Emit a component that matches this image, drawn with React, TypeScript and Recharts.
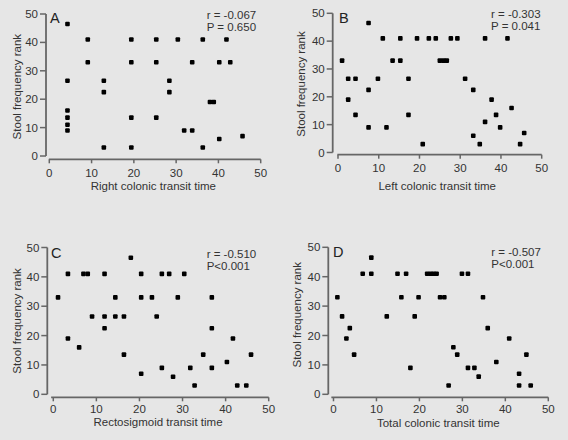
import React from 'react';
import { ScatterChart, Scatter, XAxis, YAxis, Customized } from 'recharts';

const xTicks = [0, 10, 20, 30, 40, 50];
const yTicks = [0, 10, 20, 30, 40, 50];

const panelLetters = ['A', 'B', 'C', 'D'];
const xTitles = ['Right colonic transit time', 'Left colonic transit time', 'Rectosigmoid transit time', 'Total colonic transit time'];
const yTitle = 'Stool frequency rank';
const statR = ['r = -0.067', 'r = -0.303', 'r = -0.510', 'r = -0.507'];
const statP = ['P = 0.650', 'P = 0.041', 'P<0.001', 'P<0.001'];

const rightX = [4.3, 9.1, 9.1, 4.3, 4.3, 4.3, 4.3, 4.3, 12.9, 12.9, 12.9, 19.4, 19.4, 19.4, 19.4, 25.3, 25.3, 25.3, 30.4, 28.4, 28.4, 33.8, 31.9, 33.8, 36.3, 36.3, 38.0, 38.9, 40.2, 40.2, 41.9, 42.8, 45.7];
const rightY = [46.5, 41, 33, 26.5, 16, 13.5, 11, 9, 26.5, 22.5, 3, 41, 33, 13.5, 3, 41, 33, 13.5, 41, 26.5, 22.5, 33, 9, 9, 41, 3, 19, 19, 33, 6, 41, 33, 7];

const leftX = [1.0, 2.5, 2.5, 4.3, 4.3, 7.5, 7.5, 7.5, 9.8, 11.0, 11.9, 13.4, 15.3, 15.3, 17.3, 17.3, 19.4, 20.8, 22.3, 24.0, 25.0, 25.9, 26.7, 27.7, 29.3, 31.2, 33.2, 33.2, 34.8, 36.1, 36.1, 37.7, 38.8, 39.8, 41.6, 42.6, 44.7, 45.7];
const leftY = [33, 26.5, 19, 26.5, 13.5, 46.5, 22.5, 9, 26.5, 41, 9, 33, 41, 33, 26.5, 13.5, 41, 3, 41, 41, 33, 33, 33, 41, 41, 26.5, 22.5, 6, 3, 41, 11, 19, 13.5, 9, 41, 16, 3, 7];

const rectoX = [1.1, 3.4, 3.4, 6.0, 7.0, 8.0, 9.0, 11.9, 11.9, 11.9, 14.4, 14.4, 16.4, 16.4, 18.0, 20.4, 20.4, 20.4, 22.9, 24.0, 25.2, 25.2, 26.9, 27.8, 28.9, 30.4, 31.8, 32.8, 34.8, 36.8, 36.8, 36.8, 40.3, 41.7, 42.7, 44.8, 45.9];
const rectoY = [33, 41, 19, 16, 41, 41, 26.5, 41, 26.5, 22.5, 33, 26.5, 26.5, 13.5, 46.5, 41, 33, 7, 33, 26.5, 41, 9, 41, 6, 33, 41, 9, 3, 13.5, 33, 22.5, 9, 11, 19, 3, 3, 13.5];

const totalX = [0.9, 2.0, 3.0, 3.8, 4.8, 6.8, 8.8, 8.8, 12.4, 14.9, 15.8, 16.9, 17.9, 18.9, 19.8, 21.8, 22.6, 23.3, 24.0, 24.8, 25.8, 26.8, 27.9, 28.8, 29.9, 31.3, 31.3, 32.8, 33.8, 34.8, 35.9, 37.9, 40.9, 43.2, 43.2, 44.9, 45.9];
const totalY = [33, 26.5, 19, 22.5, 13.5, 41, 46.5, 41, 26.5, 41, 33, 41, 9, 26.5, 33, 41, 41, 41, 41, 33, 33, 3, 16, 13.5, 41, 41, 9, 9, 6, 33, 22.5, 11, 19, 7, 3, 13.5, 3];

const seriesX = [rightX, leftX, rectoX, totalX];
const seriesY = [rightY, leftY, rectoY, totalY];

const FONT = '"Liberation Sans", Arial, Helvetica, sans-serif';
const AXIS = '#666666';
const TEXT = '#333';
const X_AXIS_H = 40;

type Layout = {
  left: number; top: number; w: number; h: number;
  axisW: number; mTop: number; mRight: number; mBottom: number;
  xExt: number; yExt: number; xLineStart: number; xTickMargin: number;
  xLabelOffset: number; yLabelX: number; yLabelDy: number;
  letterX: number; letterY: number; statX: number; statY: number;
};

const layouts: Layout[] = [
  { left: 0, top: 0, w: 284, h: 230, axisW: 46, mTop: 14, mRight: 23.3, mBottom: 30.7, xExt: 0.78, yExt: 1.16, xLineStart: -0.1, xTickMargin: 5.5, xLabelOffset: 9.8, yLabelX: 17, yLabelDy: 0, letterX: 50, letterY: 23.3, statX: 206.7, statY: 19.3 },
  { left: 284, top: 0, w: 284, h: 230, axisW: 48.7, mTop: 13.3, mRight: 26.3, mBottom: 35.3, xExt: 1.3, yExt: 0.8, xLineStart: -0.15, xTickMargin: 5.5, xLabelOffset: 5.2, yLabelX: 16.7, yLabelDy: 0, letterX: 55, letterY: 23, statX: 207, statY: 17.5 },
  { left: 0, top: 230, w: 284, h: 210, axisW: 47.3, mTop: 17.5, mRight: 15.3, mBottom: 2.7, xExt: 1.39, yExt: 1.02, xLineStart: -0.5, xTickMargin: 3.5, xLabelOffset: 11.3, yLabelX: 16.7, yLabelDy: -1.5, letterX: 51, letterY: 28, statX: 206.7, statY: 27.5 },
  { left: 284, top: 230, w: 284, h: 210, axisW: 44.3, mTop: 17.3, mRight: 19.7, mBottom: 2.7, xExt: 1.21, yExt: 1.02, xLineStart: -0.5, xTickMargin: 3.5, xLabelOffset: 10.3, yLabelX: 12.7, yLabelDy: -7.5, letterX: 49, letterY: 26.7, statX: 207.3, statY: 26 },
];

const Square = (p: any) => (
  <rect x={p.cx - 2.3} y={p.cy - 2.3} width={4.6} height={4.6} rx={1} fill="#000" />
);

function Panel({ i }: { i: number }) {
  const L = layouts[i];
  const data = seriesX[i].map((x, k) => ({ x, y: seriesY[i][k] }));
  const xMin = -L.xExt;
  const yMin = -L.yExt;

  // plot-area geometry, same linear mapping the axes use
  const plotLeft = L.axisW;
  const plotRight = L.w - L.mRight;
  const plotTop = L.mTop;
  const plotBottom = L.h - L.mBottom - X_AXIS_H;
  const sx = (v: number) => plotLeft + ((v - xMin) / (50 - xMin)) * (plotRight - plotLeft);
  const sy = (v: number) => plotBottom - ((v - yMin) / (50 - yMin)) * (plotBottom - plotTop);

  const Overlay = () => (
    <g fontFamily={FONT}>
      <path d={`M${sx(xMin)},${sy(50)}V${sy(0)}`} fill="none" stroke={AXIS} strokeWidth={1.8} />
      <path d={`M${sx(L.xLineStart)},${sy(yMin)}H${sx(50)}`} fill="none" stroke={AXIS} strokeWidth={1.8} />
      <text x={L.letterX} y={L.letterY} fontSize={14.5} fill="#222">{panelLetters[i]}</text>
      <text x={L.statX} y={L.statY} fontSize={11.5} fill={TEXT}>{statR[i]}</text>
      <text x={L.statX} y={L.statY + 12} fontSize={11.5} fill={TEXT}>{statP[i]}</text>
    </g>
  );
  return (
    <div style={{ position: 'absolute', left: L.left, top: L.top, width: L.w, height: L.h }}>
      <ScatterChart width={L.w} height={L.h} margin={{ top: L.mTop, right: L.mRight, bottom: L.mBottom, left: 0 }} style={{ fontFamily: FONT }}>
        <XAxis
          type="number"
          dataKey="x"
          domain={[xMin, 50]}
          allowDataOverflow
          ticks={xTicks}
          height={X_AXIS_H}
          axisLine={false}
          tickLine={{ stroke: AXIS, strokeWidth: 1.5 }}
          tickSize={4}
          tickMargin={L.xTickMargin}
          tick={{ fill: TEXT, fontSize: 11.5, fontFamily: FONT }}
          label={{ value: xTitles[i], position: 'insideBottom', offset: L.xLabelOffset, fill: TEXT, fontSize: 11.5, fontFamily: FONT }}
        />
        <YAxis
          type="number"
          dataKey="y"
          domain={[yMin, 50]}
          allowDataOverflow
          ticks={yTicks}
          width={L.axisW}
          axisLine={false}
          tickLine={{ stroke: AXIS, strokeWidth: 1.5 }}
          tickSize={6}
          tickMargin={2}
          tick={{ fill: TEXT, fontSize: 11.5, fontFamily: FONT }}
          label={{ value: yTitle, angle: -90, position: 'insideLeft', offset: L.yLabelX, dy: L.yLabelDy, fill: TEXT, fontSize: 11.5, fontFamily: FONT, style: { textAnchor: 'middle' } }}
        />
        <Scatter data={data} shape={Square} isAnimationActive={false} />
        <Customized component={Overlay} />
      </ScatterChart>
    </div>
  );
}

export default function App() {
  return (
    <div style={{ position: 'absolute', left: 0, top: 0, width: 568, height: 440, background: '#e6e6e6', fontFamily: FONT }}>
      {[0, 1, 2, 3].map((i) => (
        <Panel key={i} i={i} />
      ))}
    </div>
  );
}
